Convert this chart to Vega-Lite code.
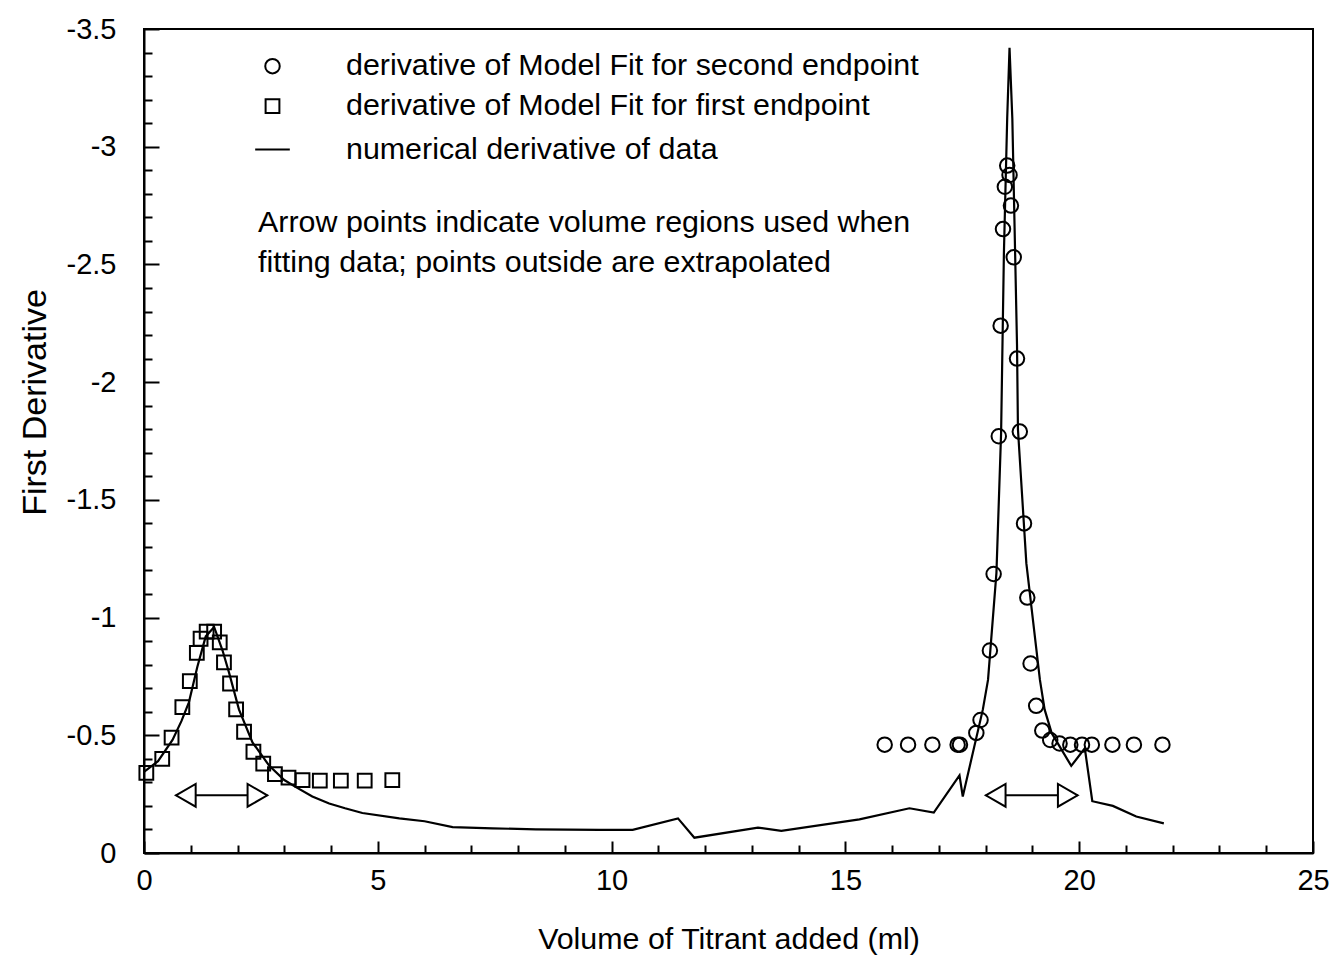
{
  "$schema": "https://vega.github.io/schema/vega-lite/v6.json",
  "width": 1169,
  "height": 824,
  "autosize": {"type": "none"},
  "padding": {"left": 144, "top": 29, "right": 26, "bottom": 110},
  "background": "white",
  "config": {
    "view": {"stroke": "black", "strokeWidth": 2},
    "font": "Liberation Sans",
    "axis": {
      "grid": false,
      "domainColor": "black",
      "domainWidth": 2,
      "tickColor": "black",
      "tickWidth": 2,
      "labelFont": "Liberation Sans",
      "labelFontSize": 29,
      "labelColor": "black",
      "labelFlush": false,
      "labelOverlap": false,
      "titleFont": "Liberation Sans",
      "titleFontSize": 30.4,
      "titleFontWeight": "normal",
      "titleColor": "black"
    }
  },
  "resolve": {"scale": {"x": "shared", "y": "shared"}, "axis": {"y": "independent"}},
  "datasets": {
    "numerical": [
      {"volume": 0.0, "deriv": -0.345},
      {"volume": 0.3, "deriv": -0.39},
      {"volume": 0.61, "deriv": -0.48},
      {"volume": 0.8, "deriv": -0.56},
      {"volume": 0.96, "deriv": -0.64},
      {"volume": 1.14, "deriv": -0.79},
      {"volume": 1.32, "deriv": -0.92},
      {"volume": 1.5, "deriv": -0.96},
      {"volume": 1.68, "deriv": -0.86},
      {"volume": 1.82, "deriv": -0.765},
      {"volume": 2.03, "deriv": -0.61},
      {"volume": 2.32, "deriv": -0.47},
      {"volume": 2.68, "deriv": -0.37},
      {"volume": 3.0, "deriv": -0.31},
      {"volume": 3.25, "deriv": -0.28},
      {"volume": 3.6, "deriv": -0.24},
      {"volume": 3.96, "deriv": -0.21},
      {"volume": 4.3, "deriv": -0.19},
      {"volume": 4.67, "deriv": -0.17},
      {"volume": 5.46, "deriv": -0.147},
      {"volume": 6.0, "deriv": -0.135},
      {"volume": 6.6, "deriv": -0.11},
      {"volume": 7.45, "deriv": -0.105},
      {"volume": 8.38, "deriv": -0.1},
      {"volume": 9.74, "deriv": -0.098},
      {"volume": 10.45, "deriv": -0.098},
      {"volume": 11.42, "deriv": -0.147},
      {"volume": 11.77, "deriv": -0.065},
      {"volume": 13.13, "deriv": -0.108},
      {"volume": 13.63, "deriv": -0.094},
      {"volume": 15.3, "deriv": -0.143},
      {"volume": 16.37, "deriv": -0.19},
      {"volume": 16.89, "deriv": -0.172},
      {"volume": 17.44, "deriv": -0.33},
      {"volume": 17.51, "deriv": -0.24},
      {"volume": 17.94, "deriv": -0.61},
      {"volume": 18.05, "deriv": -0.735},
      {"volume": 18.23, "deriv": -1.19},
      {"volume": 18.33, "deriv": -1.785},
      {"volume": 18.39, "deriv": -2.55},
      {"volume": 18.46, "deriv": -3.12},
      {"volume": 18.51, "deriv": -3.42},
      {"volume": 18.57, "deriv": -3.12},
      {"volume": 18.67, "deriv": -2.16},
      {"volume": 18.69, "deriv": -1.8},
      {"volume": 18.87, "deriv": -1.23},
      {"volume": 19.16, "deriv": -0.735},
      {"volume": 19.26, "deriv": -0.61},
      {"volume": 19.41, "deriv": -0.51},
      {"volume": 19.83, "deriv": -0.37},
      {"volume": 20.12, "deriv": -0.445},
      {"volume": 20.28, "deriv": -0.22},
      {"volume": 20.72, "deriv": -0.2},
      {"volume": 21.22, "deriv": -0.155},
      {"volume": 21.81, "deriv": -0.126}
    ],
    "model": [
      {"series": "derivative of Model Fit for first endpoint", "volume": 0.05, "deriv": -0.34},
      {"series": "derivative of Model Fit for first endpoint", "volume": 0.39, "deriv": -0.4},
      {"series": "derivative of Model Fit for first endpoint", "volume": 0.59, "deriv": -0.49},
      {"series": "derivative of Model Fit for first endpoint", "volume": 0.82, "deriv": -0.62},
      {"series": "derivative of Model Fit for first endpoint", "volume": 0.98, "deriv": -0.73},
      {"series": "derivative of Model Fit for first endpoint", "volume": 1.13, "deriv": -0.85},
      {"series": "derivative of Model Fit for first endpoint", "volume": 1.21, "deriv": -0.91},
      {"series": "derivative of Model Fit for first endpoint", "volume": 1.34, "deriv": -0.94},
      {"series": "derivative of Model Fit for first endpoint", "volume": 1.5, "deriv": -0.94},
      {"series": "derivative of Model Fit for first endpoint", "volume": 1.62, "deriv": -0.895},
      {"series": "derivative of Model Fit for first endpoint", "volume": 1.71, "deriv": -0.81},
      {"series": "derivative of Model Fit for first endpoint", "volume": 1.84, "deriv": -0.72},
      {"series": "derivative of Model Fit for first endpoint", "volume": 1.97, "deriv": -0.61},
      {"series": "derivative of Model Fit for first endpoint", "volume": 2.14, "deriv": -0.515},
      {"series": "derivative of Model Fit for first endpoint", "volume": 2.34, "deriv": -0.43},
      {"series": "derivative of Model Fit for first endpoint", "volume": 2.55, "deriv": -0.38},
      {"series": "derivative of Model Fit for first endpoint", "volume": 2.8, "deriv": -0.335},
      {"series": "derivative of Model Fit for first endpoint", "volume": 3.09, "deriv": -0.32},
      {"series": "derivative of Model Fit for first endpoint", "volume": 3.39, "deriv": -0.31},
      {"series": "derivative of Model Fit for first endpoint", "volume": 3.76, "deriv": -0.307},
      {"series": "derivative of Model Fit for first endpoint", "volume": 4.21, "deriv": -0.307},
      {"series": "derivative of Model Fit for first endpoint", "volume": 4.72, "deriv": -0.307},
      {"series": "derivative of Model Fit for first endpoint", "volume": 5.31, "deriv": -0.31},
      {"series": "derivative of Model Fit for second endpoint", "volume": 15.84, "deriv": -0.46},
      {"series": "derivative of Model Fit for second endpoint", "volume": 16.34, "deriv": -0.46},
      {"series": "derivative of Model Fit for second endpoint", "volume": 16.86, "deriv": -0.46},
      {"series": "derivative of Model Fit for second endpoint", "volume": 17.4, "deriv": -0.46},
      {"series": "derivative of Model Fit for second endpoint", "volume": 17.45, "deriv": -0.46},
      {"series": "derivative of Model Fit for second endpoint", "volume": 17.8, "deriv": -0.51},
      {"series": "derivative of Model Fit for second endpoint", "volume": 17.89, "deriv": -0.565},
      {"series": "derivative of Model Fit for second endpoint", "volume": 18.09, "deriv": -0.86},
      {"series": "derivative of Model Fit for second endpoint", "volume": 18.17, "deriv": -1.185},
      {"series": "derivative of Model Fit for second endpoint", "volume": 18.28, "deriv": -1.77},
      {"series": "derivative of Model Fit for second endpoint", "volume": 18.32, "deriv": -2.24},
      {"series": "derivative of Model Fit for second endpoint", "volume": 18.37, "deriv": -2.65},
      {"series": "derivative of Model Fit for second endpoint", "volume": 18.41, "deriv": -2.83},
      {"series": "derivative of Model Fit for second endpoint", "volume": 18.46, "deriv": -2.92},
      {"series": "derivative of Model Fit for second endpoint", "volume": 18.51, "deriv": -2.88},
      {"series": "derivative of Model Fit for second endpoint", "volume": 18.54, "deriv": -2.75},
      {"series": "derivative of Model Fit for second endpoint", "volume": 18.6, "deriv": -2.53},
      {"series": "derivative of Model Fit for second endpoint", "volume": 18.67, "deriv": -2.1},
      {"series": "derivative of Model Fit for second endpoint", "volume": 18.73, "deriv": -1.79},
      {"series": "derivative of Model Fit for second endpoint", "volume": 18.82, "deriv": -1.4},
      {"series": "derivative of Model Fit for second endpoint", "volume": 18.89, "deriv": -1.085},
      {"series": "derivative of Model Fit for second endpoint", "volume": 18.96, "deriv": -0.805},
      {"series": "derivative of Model Fit for second endpoint", "volume": 19.08, "deriv": -0.625},
      {"series": "derivative of Model Fit for second endpoint", "volume": 19.21, "deriv": -0.52},
      {"series": "derivative of Model Fit for second endpoint", "volume": 19.38, "deriv": -0.48},
      {"series": "derivative of Model Fit for second endpoint", "volume": 19.58, "deriv": -0.465},
      {"series": "derivative of Model Fit for second endpoint", "volume": 19.81, "deriv": -0.46},
      {"series": "derivative of Model Fit for second endpoint", "volume": 20.06, "deriv": -0.46},
      {"series": "derivative of Model Fit for second endpoint", "volume": 20.27, "deriv": -0.46},
      {"series": "derivative of Model Fit for second endpoint", "volume": 20.71, "deriv": -0.46},
      {"series": "derivative of Model Fit for second endpoint", "volume": 21.17, "deriv": -0.46},
      {"series": "derivative of Model Fit for second endpoint", "volume": 21.78, "deriv": -0.46}
    ],
    "regions": [
      {"endpoint": "first", "start": 0.68, "end": 2.64},
      {"endpoint": "second", "start": 18.0, "end": 19.97}
    ],
    "notes": [
      {"line1": "Arrow points indicate volume regions used when", "line2": "fitting data; points outside are extrapolated"}
    ]
  },
  "layer": [
    {
      "data": {"name": "numerical"},
      "mark": {"type": "line", "color": "black", "strokeWidth": 2.2},
      "encoding": {
        "x": {
          "field": "volume",
          "type": "quantitative",
          "scale": {"domain": [0, 25], "nice": false, "zero": false},
          "axis": {
            "title": "Volume of Titrant added (ml)",
            "values": [0,1,2,3,4,5,6,7,8,9,10,11,12,13,14,15,16,17,18,19,20,21,22,23,24,25],
            "labelExpr": "datum.value % 5 == 0 ? '' + datum.value : ''",
            "labelOverlap": false,
            "tickSize": {"condition": {"test": "datum.value % 5 == 0", "value": -12}, "value": -8},
            "labelPadding": 25,
            "titlePadding": 25
          }
        },
        "y": {
          "field": "deriv",
          "type": "quantitative",
          "scale": {"domain": [-3.5, 0], "reverse": true, "nice": false, "zero": false},
          "axis": {
            "orient": "left",
            "title": "First Derivative",
            "titleFontSize": 34,
            "titleY": 373,
            "values": [-3.5, -3, -2.5, -2, -1.5, -1, -0.5, 0],
            "labelExpr": "'' + datum.value",
            "labelOverlap": false,
            "tickSize": -15,
            "labelPadding": 43,
            "titlePadding": 14
          }
        }
      }
    },
    {
      "data": {"name": "model"},
      "mark": {"type": "point", "filled": false, "stroke": "black", "strokeWidth": 2, "opacity": 1},
      "encoding": {
        "x": {"field": "volume", "type": "quantitative"},
        "y": {
          "field": "deriv",
          "type": "quantitative",
          "axis": {
            "orient": "left",
            "title": null,
            "labels": false,
            "domain": false,
            "values": [-3.4,-3.3,-3.2,-3.1,-2.9,-2.8,-2.7,-2.6,-2.4,-2.3,-2.2,-2.1,-1.9,-1.8,-1.7,-1.6,-1.4,-1.3,-1.2,-1.1,-0.9,-0.8,-0.7,-0.6,-0.4,-0.3,-0.2,-0.1],
            "tickSize": -8
          }
        },
        "shape": {
          "field": "series",
          "type": "nominal",
          "scale": {
            "domain": ["derivative of Model Fit for second endpoint", "derivative of Model Fit for first endpoint", "numerical derivative of data"],
            "range": ["circle", "square", "stroke"]
          },
          "legend": {
            "orient": "none",
            "legendX": 110,
            "legendY": 22,
            "title": null,
            "symbolStrokeWidth": 2,
            "symbolStrokeColor": "black",
            "symbolFillColor": "white",
            "labelFont": "Liberation Sans",
            "labelFontSize": 30.4,
            "labelColor": "black",
            "labelOffset": 55,
            "labelLimit": 900,
            "rowPadding": 9,
            "padding": 0
          }
        },
        "size": {
          "field": "series",
          "type": "nominal",
          "scale": {
            "type": "ordinal",
            "domain": ["derivative of Model Fit for second endpoint", "derivative of Model Fit for first endpoint", "numerical derivative of data"],
            "range": [210, 190, 1200]
          },
          "legend": {
            "orient": "none",
            "legendX": 110,
            "legendY": 22,
            "title": null,
            "symbolStrokeWidth": 2,
            "symbolStrokeColor": "black",
            "symbolFillColor": "white",
            "labelFont": "Liberation Sans",
            "labelFontSize": 30.4,
            "labelColor": "black",
            "labelOffset": 55,
            "labelLimit": 900,
            "rowPadding": 9,
            "padding": 0
          }
        }
      }
    },
    {
      "data": {"name": "regions"},
      "mark": {"type": "rule", "color": "black", "strokeWidth": 2},
      "encoding": {
        "x": {"field": "start", "type": "quantitative"},
        "x2": {"field": "end"},
        "y": {"datum": -0.245, "type": "quantitative", "axis": null}
      }
    },
    {
      "data": {"name": "regions"},
      "mark": {"type": "point", "shape": "triangle-left", "filled": true, "fill": "white", "stroke": "black", "strokeWidth": 2, "size": 520, "opacity": 1, "xOffset": 10},
      "encoding": {
        "x": {"field": "start", "type": "quantitative"},
        "y": {"datum": -0.245, "type": "quantitative", "axis": null}
      }
    },
    {
      "data": {"name": "regions"},
      "mark": {"type": "point", "shape": "triangle-right", "filled": true, "fill": "white", "stroke": "black", "strokeWidth": 2, "size": 520, "opacity": 1, "xOffset": -10},
      "encoding": {
        "x": {"field": "end", "type": "quantitative"},
        "y": {"datum": -0.245, "type": "quantitative", "axis": null}
      }
    },
    {
      "data": {"name": "notes"},
      "mark": {
        "type": "text",
        "align": "left",
        "baseline": "alphabetic",
        "font": "Liberation Sans",
        "fontSize": 30.4,
        "lineHeight": 40,
        "color": "black"
      },
      "encoding": {
        "text": {"value": {"expr": "[datum.line1, datum.line2]"}},
        "x": {"datum": 2.44, "type": "quantitative"},
        "y": {"datum": -2.638, "type": "quantitative", "axis": null}
      }
    }
  ]
}
